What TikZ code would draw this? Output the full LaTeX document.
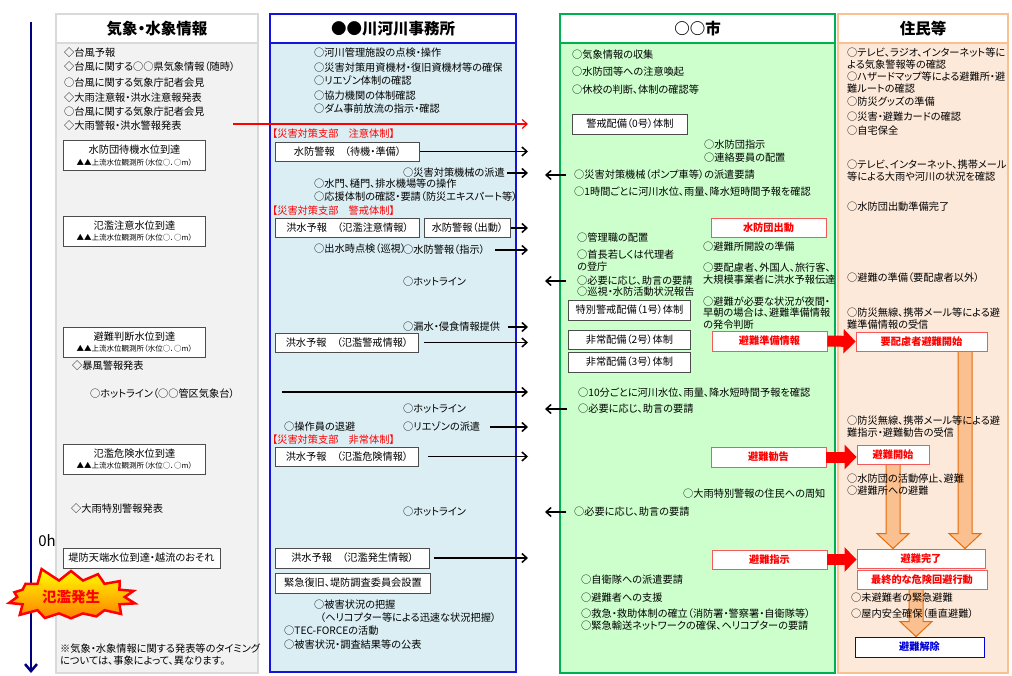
\documentclass[tikz,border=0pt]{standalone}
\usepackage{fontspec}
\setmainfont{Noto Sans CJK JP}[RawFeature=+palt]
\usetikzlibrary{shapes.symbols, calc, arrows.meta}

\definecolor{c1line}{RGB}{217,217,217}
\definecolor{c1fill}{RGB}{242,242,242}
\definecolor{c2line}{RGB}{20,20,220}
\definecolor{c2fill}{RGB}{218,238,243}
\definecolor{c3line}{RGB}{0,176,80}
\definecolor{c3fill}{RGB}{204,255,204}
\definecolor{c4line}{RGB}{250,192,144}
\definecolor{c4fill}{RGB}{253,233,217}
\definecolor{redline}{RGB}{245,90,90}
\definecolor{orfill}{RGB}{250,192,144}
\definecolor{orline}{RGB}{228,108,10}
\definecolor{navy}{RGB}{0,0,128}

\newcommand{\bodyfont}{\fontsize{10.2}{11.8}\selectfont}
\newcommand{\smallfont}{\fontsize{7.5}{8.5}\selectfont}
\newcommand{\headfont}{\fontsize{15.5}{18}\selectfont\bfseries}
\newcommand{\burstfont}{\fontsize{14.5}{16}\selectfont\bfseries}

\pgfdeclarelayer{back}
\pgfdeclarelayer{mid}
\pgfsetlayers{back,mid,main}

\tikzset{
    colframe/.style={line width=2.5pt},
    head/.style={fill=white, line width=2.5pt, minimum height=29pt, inner sep=0pt, font=\headfont},
    txt/.style={anchor=west, inner sep=0pt, font=\bodyfont},
    mtxt/.style={txt, align=left},
    redtxt/.style={txt, text=red},
    box/.style={draw=black!70, fill=white, line width=0.9pt, inner sep=0pt, minimum height=19pt, font=\bodyfont},
    wbox/.style={box, align=center, minimum width=142pt, minimum height=30pt},
    redbox/.style={box, draw=redline, text=red, font=\bodyfont\bfseries, minimum width=115pt},
    bluebox/.style={box, draw=blue!85!black, text=blue!85!black, font=\bodyfont\bfseries, minimum width=129pt, minimum height=20pt},
    arr/.style={line width=1.5pt, -{Straight Barb[length=5pt,width=9pt]}},
    redarr/.style={draw=red, line width=1.2pt, -{Straight Barb[length=5pt,width=9pt]}},
    bigred/.style={draw=red, line width=11pt, -{Triangle[length=12pt,width=24pt]}},
    downarr/.style={fill=orfill, draw=orline, line width=1pt},
    timeline/.style={draw=navy, line width=2.5pt, -{Straight Barb[length=7pt,width=12pt]}},
    burst/.style={starburst, starburst points=14, starburst point height=15pt, random starburst=5,
        draw=red, line width=2.5pt, top color=yellow, bottom color=orange,
        minimum width=128pt, minimum height=62pt, inner xsep=9pt, inner ysep=5pt, text=red, font=\burstfont}
}

% big hollow arrow pointing down: from node, to node, x position
\newcommand{\bigdown}[3]{%
    \path[downarr] let \p1=(#1.south), \p2=(#2.north) in
        (#3pt-7pt,\y1) -- (#3pt-7pt,\y2+15pt) -- (#3pt-16pt,\y2+15pt) -- (#3pt,\y2)
        -- (#3pt+16pt,\y2+15pt) -- (#3pt+7pt,\y2+15pt) -- (#3pt+7pt,\y1) -- cycle;}

\begin{document}
\begin{tikzpicture}[x=1pt, y=-1pt]
    \useasboundingbox (0,0) rectangle (1012,676);

    % columns
    \begin{pgfonlayer}{back}
        \draw[colframe, draw=c1line, fill=c1fill] (56,14) rectangle (258,673);
        \draw[colframe, draw=c2line, fill=c2fill] (270,14) rectangle (516,672);
        \draw[colframe, draw=c3line, fill=c3fill] (560,14) rectangle (835,673);
        \draw[colframe, draw=c4line, fill=c4fill] (838,14) rectangle (1008,673);
    \end{pgfonlayer}
    \node[head, draw=c1line, minimum width=202pt] (H_w) at (157,28.5) {気象・水象情報};
    \node[head, draw=c2line, minimum width=246pt] (H_r) at (393,28.5) {●●川河川事務所};
    \node[head, draw=c3line, minimum width=275pt] (H_c) at (697.5,28.5) {○○市};
    \node[head, draw=c4line, minimum width=170pt] (H_p) at (923,28.5) {住民等};

    % time axis
    \coordinate (T_top) at (31,22);
    \coordinate (T_end) at (31,673);
    \draw[timeline] (T_top) -- (T_end);
    \node[font=\fontsize{15}{15}\selectfont] (T_0) at (47,541) {0h};

    % weather column
    \node[txt] (W_1) at (64,53) {◇台風予報};
    \node[txt] (W_2) at (64,67) {◇台風に関する○○県気象情報（随時）};
    \node[txt] (W_3) at (64,83) {○台風に関する気象庁記者会見};
    \node[txt] (W_4) at (64,98) {◇大雨注意報・洪水注意報発表};
    \node[txt] (W_5) at (64,112) {○台風に関する気象庁記者会見};
    \node[txt] (W_6) at (64,126) {◇大雨警報・洪水警報発表};
    \node[wbox] (WB_1) at (134.5,155.5) {水防団待機水位到達\\{\smallfont ▲▲上流水位観測所（水位○．○m）}};
    \node[wbox] (WB_2) at (134.5,231) {氾濫注意水位到達\\{\smallfont ▲▲上流水位観測所（水位○．○m）}};
    \node[wbox] (WB_3) at (134.5,342) {避難判断水位到達\\{\smallfont ▲▲上流水位観測所（水位○．○m）}};
    \node[txt] (W_7) at (72,366) {◇暴風警報発表};
    \node[txt] (W_8) at (90,394) {○ホットライン（○○管区気象台）};
    \node[wbox] (WB_4) at (134.5,459) {氾濫危険水位到達\\{\smallfont ▲▲上流水位観測所（水位○．○m）}};
    \node[txt] (W_9) at (71,509) {◇大雨特別警報発表};
    \node[box, minimum width=157pt, minimum height=20pt] (WB_5) at (141.5,558) {堤防天端水位到達・越流のおそれ};
    \node[mtxt] (W_note) at (60,654.5) {※気象・水象情報に関する発表等のタイミング\\については、事象によって、異なります。};
    \node[burst] (W_flood) at (71,597) {氾濫発生};

    % river office column
    \node[txt] (R_1) at (314,53) {○河川管理施設の点検・操作};
    \node[txt] (R_2) at (314,68) {○災害対策用資機材・復旧資機材等の確保};
    \node[txt] (R_3) at (314,81) {○リエゾン体制の確認};
    \node[txt] (R_4) at (314,96) {○協力機関の体制確認};
    \node[txt] (R_5) at (314,109) {○ダム事前放流の指示・確認};
    \node[redtxt] (R_s1) at (272,134) {【災害対策支部　注意体制】};
    \node[box, anchor=west, minimum width=144pt] (RB_1) at (275,151.5) {水防警報　（待機・準備）};
    \node[txt] (R_6) at (403,173) {○災害対策機械の派遣};
    \node[txt] (R_7) at (314,184) {○水門、樋門、排水機場等の操作};
    \node[txt] (R_8) at (314,197) {○応援体制の確認・要請（防災エキスパート等）};
    \node[redtxt] (R_s2) at (272,211) {【災害対策支部　警戒体制】};
    \node[box, anchor=west, minimum width=144pt] (RB_2) at (275,228) {洪水予報　（氾濫注意情報）};
    \node[box, anchor=west, minimum width=86pt] (RB_3) at (424,228) {水防警報（出動）};
    \node[txt] (R_9) at (314,249) {○出水時点検（巡視）};
    \node[txt] (R_10) at (403,250) {○水防警報（指示）};
    \node[txt] (R_11) at (403,282) {○ホットライン};
    \node[txt] (R_12) at (403,327) {○漏水・侵食情報提供};
    \node[box, anchor=west, minimum width=143pt] (RB_4) at (275,342.5) {洪水予報　（氾濫警戒情報）};
    \coordinate (R_hl) at (282,392);
    \node[txt] (R_13) at (403,409) {○ホットライン};
    \node[txt] (R_14) at (284,427) {○操作員の退避};
    \node[txt] (R_15) at (403,427) {○リエゾンの派遣};
    \node[redtxt] (R_s3) at (272,440) {【災害対策支部　非常体制】};
    \node[box, anchor=west, minimum width=143pt] (RB_5) at (275,456.5) {洪水予報　（氾濫危険情報）};
    \node[txt] (R_16) at (403,512) {○ホットライン};
    \node[box, anchor=west, minimum width=154pt, minimum height=20pt] (RB_6) at (275,558) {洪水予報　（氾濫発生情報）};
    \node[box, anchor=west, minimum width=155pt, minimum height=20pt] (RB_7) at (275,583) {緊急復旧、堤防調査委員会設置};
    \node[txt] (R_17) at (314,605) {○被害状況の把握};
    \node[txt] (R_18) at (320,618) {（ヘリコプター等による迅速な状況把握）};
    \node[txt] (R_19) at (284,631) {○TEC-FORCEの活動};
    \node[txt] (R_20) at (284,645) {○被害状況・調査結果等の公表};

    % city column
    \node[txt] (C_1) at (572,55) {○気象情報の収集};
    \node[txt] (C_2) at (572,72) {○水防団等への注意喚起};
    \node[txt] (C_3) at (572,90) {○休校の判断、体制の確認等};
    \node[box, anchor=west, minimum width=115pt, minimum height=20pt] (CB_0) at (572,124) {警戒配備（0号）体制};
    \node[txt] (C_4) at (704,145) {○水防団指示};
    \node[txt] (C_5) at (704,158) {○連絡要員の配置};
    \node[txt] (C_6) at (574,175) {○災害対策機械（ポンプ車等）の派遣要請};
    \node[txt] (C_7) at (574,192) {○1時間ごとに河川水位、雨量、降水短時間予報を確認};
    \node[redbox] (CR_1) at (768.5,228) {水防団出動};
    \node[txt] (C_8) at (577,238) {○管理職の配置};
    \node[txt] (C_9) at (703,247) {○避難所開設の準備};
    \node[mtxt] (C_10) at (577,261) {○首長若しくは代理者\\の登庁};
    \node[mtxt] (C_11) at (703,274) {○要配慮者、外国人、旅行客、\\大規模事業者に洪水予報伝達};
    \node[txt] (C_12) at (577,281) {○必要に応じ、助言の要請};
    \node[txt] (C_13) at (577,292) {○巡視・水防活動状況報告};
    \node[mtxt] (C_14) at (703,313) {○避難が必要な状況が夜間・\\早朝の場合は、避難準備情報\\の発令判断};
    \node[box, anchor=west, minimum width=122pt, minimum height=20pt] (CB_1) at (568,310) {特別警戒配備（1号）体制};
    \node[box, anchor=west, minimum width=122pt] (CB_2) at (568,339.5) {非常配備（2号）体制};
    \node[box, anchor=west, minimum width=122pt, minimum height=20pt] (CB_3) at (568,362) {非常配備（3号）体制};
    \node[redbox, minimum height=20pt] (CR_2) at (769.5,341) {避難準備情報};
    \node[txt] (C_15) at (578,393) {○10分ごとに河川水位、雨量、降水短時間予報を確認};
    \node[txt] (C_16) at (578,409) {○必要に応じ、助言の要請};
    \node[redbox, minimum height=20pt] (CR_3) at (768.5,457) {避難勧告};
    \node[txt] (C_17) at (683,494) {○大雨特別警報の住民への周知};
    \node[txt] (C_18) at (574,512) {○必要に応じ、助言の要請};
    \node[redbox] (CR_4) at (769.5,559.5) {避難指示};
    \node[txt] (C_19) at (581,580) {○自衛隊への派遣要請};
    \node[txt] (C_20) at (581,598) {○避難者への支援};
    \node[txt] (C_21) at (581,614) {○救急・救助体制の確立（消防署・警察署・自衛隊等）};
    \node[txt] (C_22) at (581,626) {○緊急輸送ネットワークの確保、ヘリコプターの要請};

    % residents column
    \node[mtxt] (P_1) at (847,58.5) {○テレビ、ラジオ、インターネット等に\\よる気象警報等の確認};
    \node[mtxt] (P_2) at (847,82.5) {○ハザードマップ等による避難所・避\\難ルートの確認};
    \node[txt] (P_3) at (847,102) {○防災グッズの準備};
    \node[txt] (P_4) at (847,117) {○災害・避難カードの確認};
    \node[txt] (P_5) at (847,131) {○自宅保全};
    \node[mtxt] (P_6) at (847,170.5) {○テレビ、インターネット、携帯メール\\等による大雨や河川の状況を確認};
    \node[txt] (P_7) at (847,207) {○水防団出動準備完了};
    \node[txt] (P_8) at (847,278) {○避難の準備（要配慮者以外）};
    \node[mtxt] (P_9) at (847,319) {○防災無線、携帯メール等による避\\難準備情報の受信};
    \node[redbox, minimum width=131pt] (PB_1) at (921.5,341.5) {要配慮者避難開始};
    \node[mtxt] (P_10) at (847,427) {○防災無線、携帯メール等による避\\難指示・避難勧告の受信};
    \node[redbox, minimum width=72pt] (PB_2) at (893,454.5) {避難開始};
    \node[mtxt] (P_11) at (847,485) {○水防団の活動停止、避難\\○避難所への避難};
    \node[redbox, minimum width=128pt] (PB_3) at (921,558.5) {避難完了};
    \node[redbox, minimum width=130pt] (PB_4) at (922,579.5) {最終的な危険回避行動};
    \node[txt] (P_12) at (851,598) {○未避難者の緊急避難};
    \node[txt] (P_13) at (851,614) {○屋内安全確保（垂直避難）};
    \node[bluebox] (PB_5) at (919.5,647) {避難解除};

    \begin{pgfonlayer}{mid}
        \bigdown{PB_1}{PB_3}{965}
        \bigdown{PB_2}{PB_3}{893}
        \bigdown{PB_3}{PB_5}{916}
    \end{pgfonlayer}

    % information flow
    \coordinate (edge) at (528,0);
    \coordinate (ledge) at (545,0);
    \coordinate (W_red) at (233,124);
    \draw[redarr] (W_red) -- (W_red -| edge);
    \draw[arr] (RB_1.east) -- (RB_1.east -| edge);
    \draw[arr] ([xshift=2pt]R_6.east) -- (R_6.east -| edge);
    \draw[arr] (RB_3.east) -- (RB_3.east -| edge);
    \draw[arr] ([xshift=10pt]R_10.east) -- (R_10.east -| edge);
    \draw[arr] ([xshift=8pt]R_12.east) -- (R_12.east -| edge);
    \draw[arr] ([xshift=5pt]RB_4.east) -- (RB_4.east -| edge);
    \draw[arr] (R_hl) -- (R_hl -| edge);
    \draw[arr] ([xshift=10pt]R_15.east) -- (R_15.east -| edge);
    \draw[arr] ([xshift=9pt]RB_5.east) -- (RB_5.east -| edge);
    \draw[arr] ([xshift=4pt]RB_6.east) -- (RB_6.east -| edge);
    \draw[arr] ([xshift=-8pt]C_6.west) -- (C_6.west -| ledge);
    \draw[arr] ([xshift=-11pt]C_12.west) -- (C_12.west -| ledge);
    \draw[arr] ([xshift=-11pt]C_16.west) -- (C_16.west -| ledge);
    \draw[arr] ([xshift=-8pt]C_18.west) -- (C_18.west -| ledge);

    \draw[bigred] (CR_2.east) -- (PB_1.west);
    \draw[bigred] (CR_3.east) -- (CR_3.east -| PB_2.west);
    \draw[bigred] (CR_4.east) -- (CR_4.east -| PB_3.west);
\end{tikzpicture}
\end{document}
